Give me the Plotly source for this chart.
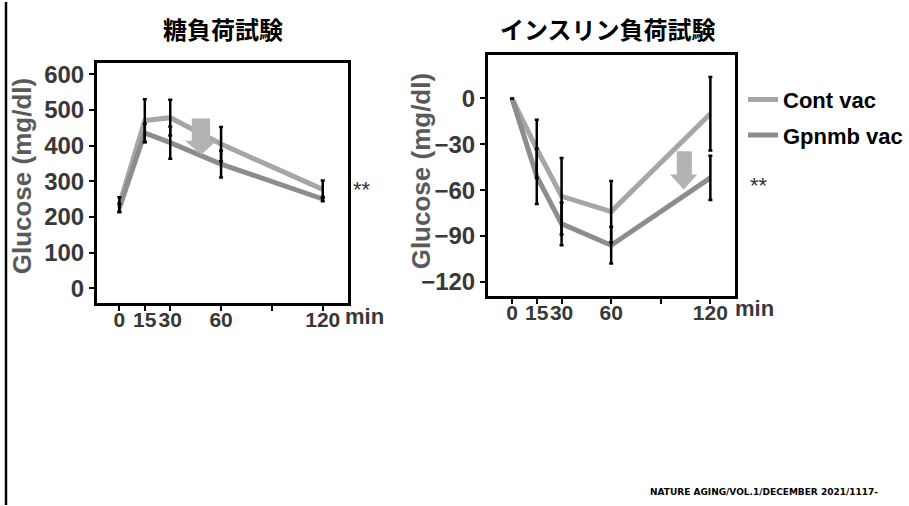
import plotly.graph_objects as go

# ---------------- data ----------------
time_min = [0, 15, 30, 60, 120]

gtt_cont = [235, 470, 478, 404, 277]
gtt_cont_err = [20, 60, 50, 48, 25]
gtt_gpnmb = [225, 435, 408, 348, 250]
gtt_gpnmb_err = [12, 26, 45, 38, 6]

itt_cont = [0, -33, -64, -74, -10]
itt_cont_err = [0, 19, 25, 20, 24]
itt_gpnmb = [0, -51, -82, -96, -52]
itt_gpnmb_err = [0, 18, 14, 12, 14.5]

x_tickvals = [0, 15, 30, 60, 90, 120]
x_ticktext = ["0", "15", "30", "60", "", "120"]
gtt_yticks = [0, 100, 200, 300, 400, 500, 600]
itt_yticks = [-120, -90, -60, -30, 0]

series_names = ["Cont vac", "Gpnmb vac"]
titles = ["糖負荷試験", "インスリン負荷試験"]
y_title = "Glucose (mg/dl)"
source_text = "NATURE AGING/VOL.1/DECEMBER 2021/1117-"

# ---------------- style ----------------
W, H = 909, 506
C_CONT = "#a6a6a6"
C_GPNMB = "#8d8d8d"
FONT = "Liberation Sans, Arial, sans-serif"
CJK = "Noto Sans CJK JP"
TICKC = "#383838"


def px(x):
    return x / W


def py(y):
    return (H - y) / H


fig = go.Figure()

panels = [
    ("x", "y", gtt_cont, gtt_cont_err, gtt_gpnmb, gtt_gpnmb_err, True),
    ("x2", "y2", itt_cont, itt_cont_err, itt_gpnmb, itt_gpnmb_err, False),
]
for xa, ya, c, ce, g, ge, show in panels:
    fig.add_trace(go.Scatter(x=time_min, y=c, mode="lines", name=series_names[0],
                             line=dict(color=C_CONT, width=5), xaxis=xa, yaxis=ya,
                             showlegend=show, legendgroup="a"))
    fig.add_trace(go.Scatter(x=time_min, y=g, mode="lines", name=series_names[1],
                             line=dict(color=C_GPNMB, width=5), xaxis=xa, yaxis=ya,
                             showlegend=show, legendgroup="b"))
    for vals, errs in ((c, ce), (g, ge)):
        fig.add_trace(go.Scatter(x=time_min, y=vals, mode="markers",
                                 marker=dict(size=1, color="rgba(0,0,0,0)"),
                                 error_y=dict(type="data", array=errs, visible=True,
                                              color="black", thickness=2.5, width=2),
                                 xaxis=xa, yaxis=ya, showlegend=False, hoverinfo="skip"))

axis_common = dict(showline=True, mirror=True, linecolor="black", linewidth=3,
                   ticks="outside", ticklen=5, tickwidth=2, tickcolor="black",
                   showgrid=False, zeroline=False, tickangle=0)

xfont = dict(family=FONT, size=21, color=TICKC, weight="bold")
yfont = dict(family=FONT, size=24, color=TICKC, weight="bold")

fig.update_layout(
    width=W, height=H,
    margin=dict(l=0, r=0, t=0, b=0),
    paper_bgcolor="white", plot_bgcolor="white",
    xaxis=dict(domain=[px(97), px(348)], range=[-13.2, 134.9], anchor="y",
               tickvals=x_tickvals, ticktext=x_ticktext, tickfont=xfont,
               ticklabelstandoff=-9, **axis_common),
    yaxis=dict(domain=[py(302), py(61)], range=[-41, 632], anchor="x",
               tickvals=gtt_yticks, tickfont=yfont, **axis_common),
    xaxis2=dict(domain=[px(488), px(735)], range=[-14.5, 134.9], anchor="y2",
                tickvals=x_tickvals, ticktext=x_ticktext, tickfont=xfont,
                ticklabelstandoff=-9, **axis_common),
    yaxis2=dict(domain=[py(295), py(53)], range=[-129.1, 28.5], anchor="x2",
                tickvals=itt_yticks, tickfont=yfont, **axis_common),
    legend=dict(x=px(743), y=py(77), xanchor="left", yanchor="top",
                font=dict(family=FONT, size=22, color="black", weight="bold"),
                tracegroupgap=4, bgcolor="rgba(0,0,0,0)"),
    showlegend=True,
)

ann = []


def note(text, x, y, font, **kw):
    d = dict(text=text, x=px(x), y=py(y), xref="paper", yref="paper",
             xanchor="center", yanchor="middle", showarrow=False, font=font)
    d.update(kw)
    ann.append(d)


note(titles[0], 223, 27, dict(family=CJK, size=24, color="black", weight="bold"))
note(titles[1], 608, 27, dict(family=CJK, size=24, color="black", weight="bold"))
for xc, yc in ((22, 175), (421, 170)):
    note(y_title, xc, yc, dict(family=FONT, size=26, color="#5a5a5a", weight="bold"),
         textangle=-90)
for xc, yc in ((364, 316), (754, 308)):
    note("min", xc, yc, dict(family=FONT, size=22, color=TICKC, weight="bold"))
for xc, yc in ((362, 188), (759, 184)):
    note("**", xc, yc, dict(family=FONT, size=22, color="#333333"))
note(source_text, 764, 492, dict(family="DejaVu Sans, sans-serif", size=9,
                                 color="black", weight="bold"))
fig.update_layout(annotations=ann)


def arrow_path(xl, xr, sl, sr, ytop, yhead, ytip):
    xc = (xl + xr) / 2
    return (f"M{sl},{ytop} L{sr},{ytop} L{sr},{yhead} L{xr},{yhead} "
            f"L{xc},{ytip} L{xl},{yhead} L{sl},{yhead} Z")


shapes = [
    dict(type="line", xref="paper", yref="paper", x0=px(6), x1=px(6), y0=py(505), y1=1,
         line=dict(color="black", width=2.5)),
    dict(type="path", xref="x", yref="y",
         path=arrow_path(38.8, 57.5, 42.7, 53.5, 476, 413, 374),
         fillcolor="#b3b3b3", line=dict(width=0), layer="above"),
    dict(type="path", xref="x2", yref="y2",
         path=arrow_path(95.6, 112.1, 99.7, 108.8, -34.6, -49.8, -59.6),
         fillcolor="#b3b3b3", line=dict(width=0), layer="above"),
]
fig.update_layout(shapes=shapes)

fig.write_html("out.html", config={"displayModeBar": False},
               post_script="document.body.style.margin='0';document.body.style.overflow='hidden';")
